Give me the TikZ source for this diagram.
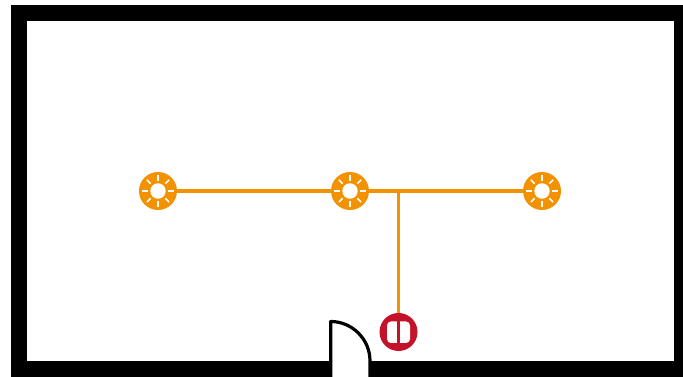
\documentclass[tikz,border=0pt]{standalone}
\usetikzlibrary{calc}
\definecolor{lampcolor}{HTML}{F39200}
\definecolor{socketcolor}{HTML}{C4122A}
\tikzset{
  lamp/.style={circle, fill=lampcolor, inner sep=0pt, minimum size=28.5pt},
  socket/.style={circle, fill=socketcolor, inner sep=0pt, minimum size=28.5pt},
  cable/.style={draw=lampcolor, line width=2.3pt},
  ray/.style={draw=white, line width=1.1pt}
}
\begin{document}
\begin{tikzpicture}[x=0.75pt,y=-0.75pt]
       \useasboundingbox (0,0) rectangle (683,377);
       \fill[black] (11,5) rectangle (683,377);
       \fill[white] (27,21) rectangle (673.5,361);
       \fill[white] (331,361) rectangle (370,377);
       % lamps and socket
       \node at (158,191) [lamp] (L1) {};
       \node at (350,191) [lamp] (L2) {};
       \node at (542,191) [lamp] (L3) {};
       \node at (398.5,332) [socket] (S) {};
       \coordinate (T) at (398.5,191);
       \draw[cable] (L1) -- (L2);
       \draw[cable] (L2) -- (L3);
       \draw[cable] (T) -- (S);
       \foreach \l in {L1,L2,L3} {
         \fill[white] (\l.center) circle [radius=5.8pt];
         \foreach \a in {0,45,...,315}
           \draw[ray] ($(\l.center)+(\a:7.8pt)$) -- ($(\l.center)+(\a:11.8pt)$);
       }
       \fill[white, rounded corners=3pt] (387,321.5) rectangle (410,343);
       \draw[socketcolor, line width=2.2pt] (398.5,321) -- (398.5,344);
       % door
       \coordinate (D1) at (330.7,377);
       \coordinate (D2) at (370,377);
       \draw[black, line width=2.4pt, line join=round] (D1) -- (330.7,321.5)
          .. controls (352,321.5) and (370,339) .. (370,361) -- (D2);
      \end{tikzpicture}
\end{document}
